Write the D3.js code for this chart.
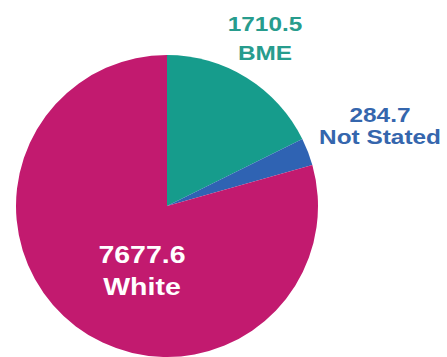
<!DOCTYPE html>
<html><head><meta charset="utf-8">
<script src="https://cdn.jsdelivr.net/npm/d3@7"></script>
<style>body{margin:0;background:#fff;}svg{display:block;}</style>
</head><body>
<script>
const categories = ["BME", "Not Stated", "White"];
const values = [1710.5, 284.7, 7677.6];
const valueLabels = ["1710.5", "284.7", "7677.6"];
const colors = ["#169c8c", "#2f63b3", "#c21a6f"];
const labelColors = ["#279c8d", "#3566ad", "#ffffff"];

const W = 447, H = 357;
const cx = 167, cy = 206, r = 151;
const svg = d3.select("body").append("svg").attr("width", W).attr("height", H);
const g = svg.append("g").attr("transform", `translate(${cx},${cy})`);
const pie = d3.pie().sort(null).value(d => d.v);
const data = categories.map((c, i) => ({c, v: values[i], i}));
const arcs = pie(data);
const arc = d3.arc().innerRadius(0).outerRadius(r);
g.selectAll("path").data(arcs).join("path")
  .attr("d", arc).attr("fill", d => colors[d.data.i]);

// label layout: [x, y of first line cap centre, line gap, font size, x-stretch] relative to centre
const labelLayout = [
  [98, -183, 29, 21, 1.16],
  [213, -91, 22, 20, 1.22],
  [-25, 49, 32, 23, 1.24]
];
arcs.forEach(a => {
  const i = a.data.i;
  const [x, y, gap, fs, sx] = labelLayout[i];
  [valueLabels[i], categories[i]].forEach((s, j) => {
    g.append("text")
      .attr("text-anchor", "middle")
      .attr("font-family", "Liberation Sans, Arial, sans-serif")
      .attr("font-weight", "bold")
      .attr("font-size", fs)
      .attr("fill", labelColors[i])
      .attr("transform", `translate(${x},${y + j*gap + fs*0.36}) scale(${sx},1)`)
      .text(s);
  });
});
</script>
</body></html>
